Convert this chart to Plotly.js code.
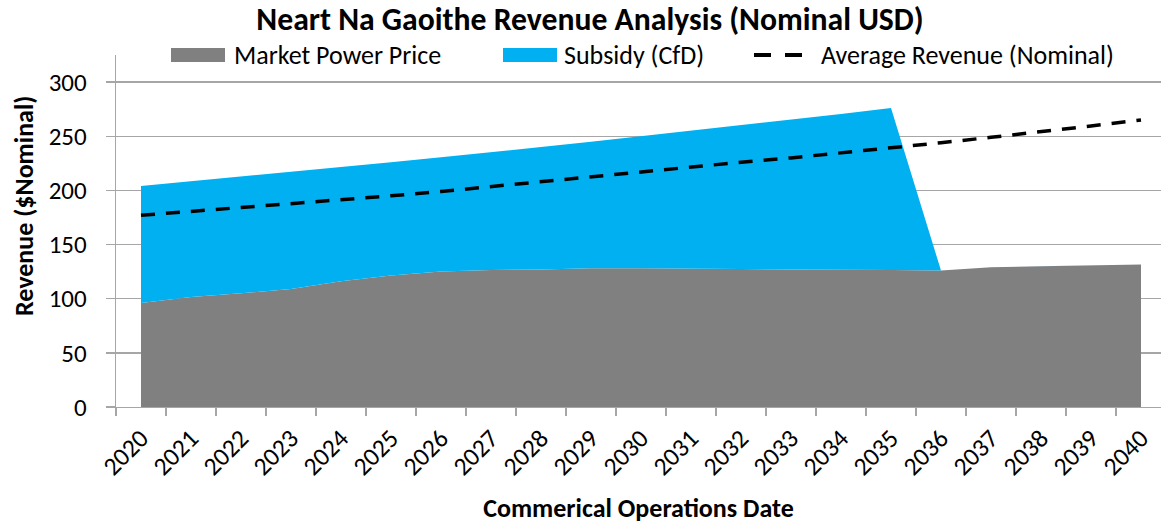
<!DOCTYPE html>
<html>
<head>
<meta charset="utf-8">
<script src="https://cdn.plot.ly/plotly-3.0.1.min.js"></script>
<style>html,body{margin:0;padding:0;background:#fff;}#chart{width:1161px;height:524px;}</style>
</head>
<body>
<div id="chart"></div>
<script>
// ---- data ----
const years = ["2020","2021","2022","2023","2024","2025","2026","2027","2028","2029","2030",
               "2031","2032","2033","2034","2035","2036","2037","2038","2039","2040"];
const marketPowerPrice = [96, 101.5, 105, 109, 116, 121.5, 125, 126.5, 127, 128, 128,
                          128, 127.5, 127, 127, 126.5, 126, 129, 130, 130.5, 131.5];
const subsidyCfD = [108, 106.8, 107.6, 108, 105.6, 104.5, 105.5, 108.5, 113, 117, 122,
                    127, 132.5, 138, 143.5, 149.5, 0, 0, 0, 0, 0];
const averageRevenue = [177, 180.5, 184, 187.5, 191, 195, 199, 203.5, 208, 213, 217.5,
                        221.5, 226, 230, 234.5, 239, 244, 249, 254, 259.5, 265];
const seriesNames = ["Market Power Price", "Subsidy (CfD)", "Average Revenue (Nominal)"];
const yTicks = [0, 50, 100, 150, 200, 250, 300];

// ---- styling ----
const FONT = "Carlito, Calibri, 'Liberation Sans Narrow', 'Open Sans', sans-serif";
const GRAY = "#808080", BLUE = "#00B0F0", GRID = "#A6A6A6";
const W = 1161, H = 524;
const M = {l: 116, r: 0, t: 55, b: 117};
const PW = W - M.l - M.r, PH = H - M.t - M.b;
const px = x => (x - M.l) / PW;          // pixel -> paper x
const py = y => (H - M.b - y) / PH;      // pixel -> paper y

const traces = [
  {x: years, y: marketPowerPrice, name: seriesNames[0], type: "scatter", mode: "lines",
   stackgroup: "rev", line: {width: 0, color: GRAY}, fillcolor: GRAY, showlegend: false, hoverinfo: "skip"},
  {x: years, y: subsidyCfD, name: seriesNames[1], type: "scatter", mode: "lines",
   stackgroup: "rev", line: {width: 0, color: BLUE}, fillcolor: BLUE, showlegend: false, hoverinfo: "skip"},
  {x: years, y: averageRevenue, name: seriesNames[2], type: "scatter", mode: "lines",
   line: {width: 3.5, color: "#000", dash: "14px,11px"}, showlegend: false, hoverinfo: "skip"}
];

const legendY = 55;
const shapes = [
  {type: "rect", xref: "paper", yref: "paper", x0: px(171), x1: px(225), y0: py(62), y1: py(48),
   fillcolor: GRAY, line: {width: 0}},
  {type: "rect", xref: "paper", yref: "paper", x0: px(503), x1: px(557), y0: py(62), y1: py(48),
   fillcolor: BLUE, line: {width: 0}},
  {type: "line", xref: "paper", yref: "paper", x0: px(754), x1: px(771), y0: py(legendY), y1: py(legendY),
   line: {width: 4, color: "#000"}},
  {type: "line", xref: "paper", yref: "paper", x0: px(785), x1: px(802), y0: py(legendY), y1: py(legendY),
   line: {width: 4, color: "#000"}}
];

const legFont = {family: FONT, size: 26, color: "#000"};
const legTextY = 54.8;
const annotations = [
  {xref: "paper", yref: "paper", x: px(233), y: py(legTextY), xanchor: "left", yanchor: "middle",
   text: seriesNames[0], showarrow: false, font: legFont, borderpad: 0},
  {xref: "paper", yref: "paper", x: px(563), y: py(legTextY), xanchor: "left", yanchor: "middle",
   text: seriesNames[1], showarrow: false, font: legFont, borderpad: 0},
  {xref: "paper", yref: "paper", x: px(820), y: py(legTextY), xanchor: "left", yanchor: "middle",
   text: seriesNames[2], showarrow: false, font: legFont, borderpad: 0},
  {xref: "paper", yref: "paper", x: px(24), y: py(206), xanchor: "center", yanchor: "middle",
   text: "<b>Revenue ($Nominal)</b>", textangle: -90, showarrow: false,
   font: {family: FONT, size: 26, color: "#000"}}
];

const layout = {
  width: W, height: H,
  margin: M,
  paper_bgcolor: "#fff", plot_bgcolor: "#fff",
  font: {family: FONT, size: 25, color: "#000"},
  title: {text: "<b>Neart Na Gaoithe Revenue Analysis (Nominal USD)</b>",
          font: {family: FONT, size: 31.7, color: "#000"},
          xref: "container", x: 590 / W, xanchor: "center",
          yref: "container", y: 1 - 19.3 / H, yanchor: "middle"},
  showlegend: false,
  xaxis: {
    type: "category", range: [-0.5, 20.4], tickson: "boundaries",
    ticks: "outside", ticklen: 8, tickcolor: GRID, tickwidth: 1.3,
    showline: true, linecolor: GRID, linewidth: 1.3,
    showgrid: false, zeroline: false, tickangle: -45,
    ticklabelstandoff: 5,
    tickfont: {family: FONT, size: 25.5, color: "#000"},
    title: {text: "<b>Commerical Operations Date</b>", standoff: 20,
            font: {family: FONT, size: 26, color: "#000"}},
    automargin: false, fixedrange: true
  },
  yaxis: {
    range: [0, 325], tickvals: yTicks, ticktext: yTicks.map(String),
    ticks: "outside", ticklen: 9, tickcolor: GRID, tickwidth: 1.3,
    showline: true, linecolor: GRID, linewidth: 1.3,
    showgrid: true, gridcolor: GRID, gridwidth: 1.3, zeroline: false,
    ticklabelstandoff: 14,
    tickfont: {family: FONT, size: 25, color: "#000"},
    automargin: false, fixedrange: true
  },
  shapes: shapes,
  annotations: annotations
};

Plotly.newPlot("chart", traces, layout, {displayModeBar: false, staticPlot: true});
</script>
</body>
</html>
